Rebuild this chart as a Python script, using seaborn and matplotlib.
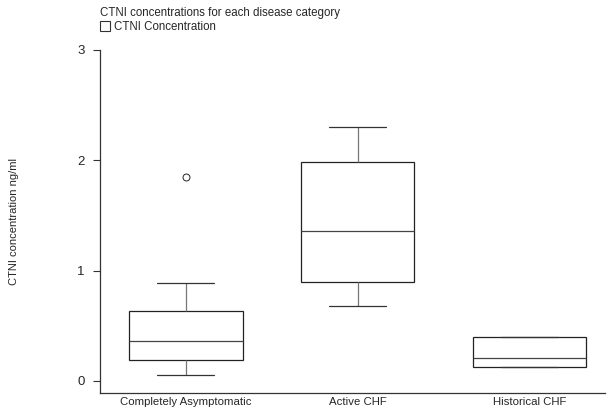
import matplotlib
matplotlib.use("Agg")
import matplotlib.pyplot as plt
from matplotlib.patches import Patch
import seaborn as sns
import pandas as pd

# Catégories et valeurs (ng/ml)
categories = ["Completely Asymptomatic", "Active CHF", "Historical CHF"]
asymptomatic = [0.05, 0.12, 0.19, 0.28, 0.36, 0.50, 0.63, 0.89, 1.85]
active_chf = [0.68, 0.80, 0.90, 1.15, 1.36, 1.70, 1.98, 2.15, 2.30]
historical_chf = [0.13, 0.13, 0.21, 0.40, 0.40]
y_ticks = [0, 1, 2, 3]

df = pd.DataFrame({
    "group": [categories[0]] * len(asymptomatic)
    + [categories[1]] * len(active_chf)
    + [categories[2]] * len(historical_chf),
    "ctni": asymptomatic + active_chf + historical_chf,
})

sns.set_style("white")
plt.rcParams["font.family"] = ["Liberation Sans", "DejaVu Sans"]

fig = plt.figure(figsize=(6.13, 4.09), dpi=100)
ax = fig.add_axes([0.163, 0.039, 0.824, 0.839])

sns.boxplot(
    data=df, x="group", y="ctni", order=categories, ax=ax,
    width=0.66, color="white", linecolor="#222222", linewidth=0.9,
    whiskerprops=dict(color="#777777"),
    capprops=dict(color="#333333"),
    medianprops=dict(color="#444444"),
    flierprops=dict(marker="o", markerfacecolor="none", markeredgewidth=0.7,
                    markeredgecolor="#222222", markersize=5),
)

ax.set_xlim(-0.5, 2.44)
ax.set_ylim(-0.11, 3.0)
ax.set_yticks(y_ticks)
ax.set_xlabel("")
ax.set_ylabel("CTNI concentration ng/ml", fontsize=8, labelpad=42)
ax.tick_params(axis="y", length=5, width=0.8, direction="out",
               labelsize=9.5, pad=6, left=True, color="#333333")
ax.tick_params(axis="x", length=0, labelsize=8.2, pad=2.5)

sns.despine(ax=ax, top=True, right=True)
for side in ["left", "bottom"]:
    ax.spines[side].set_color("#333333")
    ax.spines[side].set_linewidth(0.9)

# Titre et légende
fig.text(0.163, 0.969, "CTNI concentrations for each disease category",
         fontsize=8.3, ha="left", va="center")
handle = Patch(facecolor="white", edgecolor="#333333", linewidth=0.8)
fig.legend([handle], ["CTNI Concentration"], loc="center left",
           bbox_to_anchor=(0.163, 0.934), frameon=False, fontsize=8.3,
           handlelength=0.9, handleheight=0.9, handletextpad=0.3,
           borderpad=0, borderaxespad=0)

fig.savefig("out.png", dpi=100)
